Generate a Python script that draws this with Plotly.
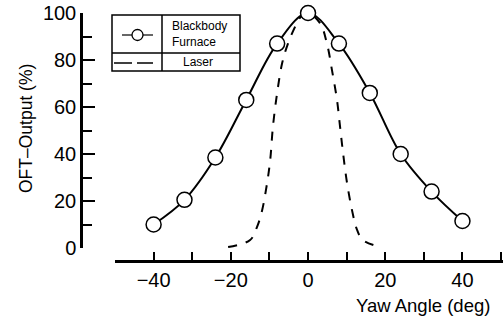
import plotly.graph_objects as go

# ---- data ----
bb_angle = [-40, -32, -24, -16, -8, 0, 8, 16, 24, 32, 40]
bb_output = [10, 20.5, 38.5, 63, 87, 100, 87, 66, 40, 24, 11.5]

laser_angle = [-20.7, -15, -13.2, -11.9, -10.6, -9.8, -9.1, -8.0, -6.7, -5.2, -3.4, -2.1, 0,
               3.1, 4.9, 6.2, 7.5, 8.3, 9.1, 10.1, 11.4, 12.7, 14.2, 18.7]
laser_output = [0.4, 3.4, 9, 16, 27.7, 37.4, 51.5, 66, 78.7, 87, 94, 98, 100,
                95.7, 87, 75.7, 63, 51.5, 40, 27.7, 16, 7.7, 3.4, 0.4]

x_tick_vals = [-40, -20, 0, 20, 40]
y_tick_vals = [0, 20, 40, 60, 80, 100]

FONT = "Liberation Sans, Arial, Helvetica, sans-serif"
W, H = 503, 322
L, R, T, B = 81, 0, 13, 61
PW, PH = W - L - R, H - T - B


def px(x):
    return (x - L) / PW


def py(y):
    return (H - B - y) / PH


fig = go.Figure()
fig.add_trace(go.Scatter(x=laser_angle, y=laser_output, mode="lines",
                         line=dict(color="black", width=2, dash="dash", shape="spline"),
                         showlegend=False, hoverinfo="skip", cliponaxis=False))
fig.add_trace(go.Scatter(x=bb_angle, y=bb_output, mode="lines+markers",
                         line=dict(color="black", width=2, shape="spline"),
                         marker=dict(symbol="circle", size=15, color="white",
                                     line=dict(color="black", width=1.5)),
                         showlegend=False, hoverinfo="skip", cliponaxis=False))

shapes = []
# legend box and grid
shapes.append(dict(type="rect", xref="paper", yref="paper",
                   x0=px(112), x1=px(240), y0=py(71), y1=py(15),
                   line=dict(color="black", width=1.5), fillcolor="white", layer="above"))
shapes.append(dict(type="line", xref="paper", yref="paper",
                   x0=px(112), x1=px(240), y0=py(53), y1=py(53),
                   line=dict(color="black", width=1.5)))
shapes.append(dict(type="line", xref="paper", yref="paper",
                   x0=px(162), x1=px(162), y0=py(71), y1=py(15),
                   line=dict(color="black", width=1.5)))
# legend samples
shapes.append(dict(type="line", xref="paper", yref="paper",
                   x0=px(122), x1=px(153), y0=py(35), y1=py(35),
                   line=dict(color="black", width=1.2)))
shapes.append(dict(type="circle", xref="paper", yref="paper",
                   x0=px(132), x1=px(143), y0=py(40.5), y1=py(29.5),
                   line=dict(color="black", width=1.3), fillcolor="white"))
shapes.append(dict(type="line", xref="paper", yref="paper",
                   x0=px(114), x1=px(153), y0=py(63), y1=py(63),
                   line=dict(color="black", width=1.5, dash="18px,5px")))

annotations = [
    dict(text="Blackbody<br>Furnace", xref="paper", yref="paper", x=px(170), y=py(34),
         xanchor="left", yanchor="middle", showarrow=False, align="left",
         font=dict(family=FONT, size=12, color="black")),
    dict(text="Laser", xref="paper", yref="paper", x=px(198), y=py(62),
         xanchor="center", yanchor="middle", showarrow=False,
         font=dict(family=FONT, size=12, color="black")),
    dict(text="Yaw Angle (deg)", xref="paper", yref="paper", x=px(423), y=py(305),
         xanchor="center", yanchor="middle", showarrow=False,
         font=dict(family=FONT, size=18.5, color="black")),
    dict(text="OFT–Output (%)", xref="paper", yref="paper", x=px(26), y=py(128),
         xanchor="center", yanchor="middle", showarrow=False, textangle=-90,
         font=dict(family=FONT, size=17.5, color="black")),
]

fig.update_layout(
    width=W, height=H,
    margin=dict(l=L, r=R, t=T, b=B, pad=0),
    paper_bgcolor="white", plot_bgcolor="white",
    font=dict(family=FONT, color="black"),
    shapes=shapes, annotations=annotations,
    xaxis=dict(domain=[px(115), 1], range=[-50, 50.5], anchor="free", position=0,
               showgrid=False, zeroline=False, showline=True, linecolor="black", linewidth=2.5,
               ticks="inside", ticklen=8, tickwidth=1.5, tickcolor="black",
               tickvals=x_tick_vals, ticktext=[("−" if v < 0 else "") + str(abs(v)) for v in x_tick_vals],
               tickfont=dict(family=FONT, size=20, color="black"),
               minor=dict(ticks="inside", ticklen=8, tickwidth=1.5, tickcolor="black", dtick=10, tick0=0)),
    yaxis=dict(domain=[py(248), 1], range=[0, 100], anchor="free", position=0,
               showgrid=False, zeroline=False, showline=True, linecolor="black", linewidth=2.5,
               ticks="inside", ticklen=12, tickwidth=1.5, tickcolor="black",
               tickvals=y_tick_vals, ticktext=[str(v) for v in y_tick_vals],
               tickfont=dict(family=FONT, size=20, color="black"),
               minor=dict(ticks="inside", ticklen=9, tickwidth=1.5, tickcolor="black", dtick=10, tick0=0)),
)

fig.write_html("out.html")
